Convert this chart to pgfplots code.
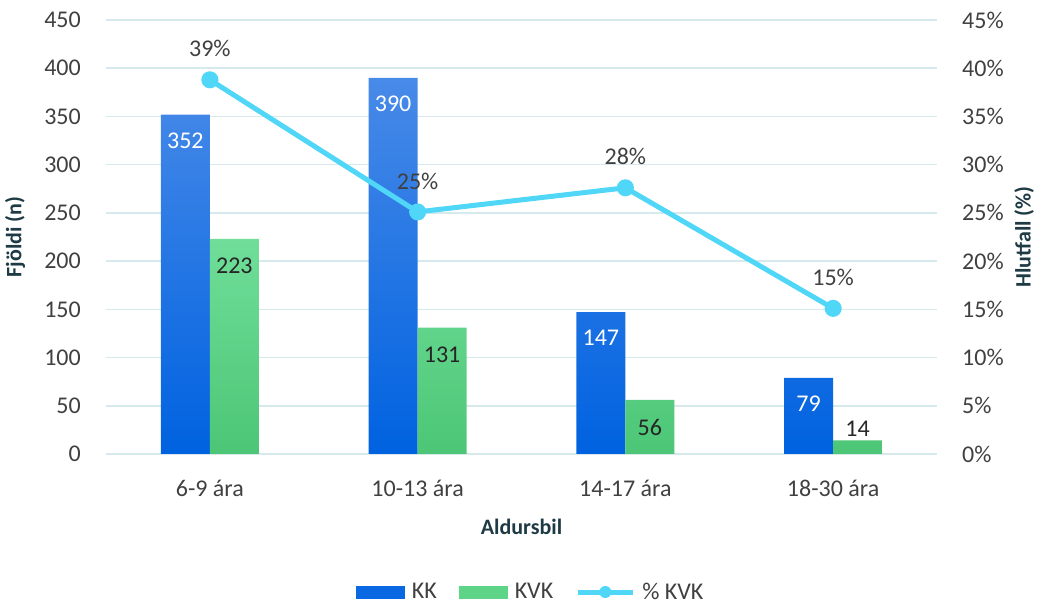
\documentclass[border=0pt]{standalone}
\usepackage{fontspec}
\setmainfont{Carlito}
\usepackage{pgfplots}
\pgfplotsset{compat=1.18}
\definecolor{kktop}{RGB}{72,138,232}
\definecolor{kkbot}{RGB}{0,98,224}
\definecolor{kvktop}{RGB}{112,222,153}
\definecolor{kvkbot}{RGB}{76,198,118}
\definecolor{kkleg}{RGB}{10,104,226}
\definecolor{kvkleg}{RGB}{94,212,137}
\definecolor{linec}{RGB}{80,214,247}
\definecolor{gridc}{RGB}{214,233,237}
\definecolor{tickc}{RGB}{64,64,64}
\definecolor{labc}{RGB}{30,58,68}
\tikzset{lab/.style={font=\fontsize{24}{29}\selectfont}}
\begin{document}
\begin{tikzpicture}[x=1pt,y=1pt]
\path[use as bounding box] (0,0) rectangle (1039,605);
\pgfplotsset{
  base/.style={scale only axis, width=831pt, height=434pt, at={(106pt,151pt)}, anchor=south west,
    xmin=-0.5, xmax=3.5, axis line style={draw=none}, major tick length=0pt,
    tick label style={font=\fontsize{24}{29}\selectfont, text=tickc},
    /pgf/number format/assume math mode=true}
}
\begin{axis}[base, ymin=0, ymax=450, ytick={0,50,...,450},
  ymajorgrids, grid style={gridc, line width=1.5pt},
  xtick={0,1,2,3}, xticklabels={6-9 ára, 10-13 ára, 14-17 ára, 18-30 ára},
  xticklabel style={anchor=base, yshift=-43pt},
  yticklabel style={anchor=east, inner sep=0pt, xshift=-25pt},
  ybar, bar width=49pt,
  ylabel={Fjöldi (n)},
  ylabel style={at={(axis description cs:-0.1095,0.5)}, anchor=center, font=\bfseries\fontsize{22}{26}\selectfont, text=labc},
  xlabel={Aldursbil},
  xlabel style={at={(axis description cs:0.5,-0.168)}, anchor=center, font=\bfseries\fontsize{22}{26}\selectfont, text=labc},
]
\addplot[bar shift=-24.5pt, draw=none, top color=kktop, bottom color=kkbot] coordinates {(0,352) (1,390) (2,147) (3,79)};
\addplot[bar shift=24.5pt, draw=none, top color=kvktop, bottom color=kvkbot] coordinates {(0,223) (1,131) (2,56) (3,14)};
\addplot[bar shift=-24.5pt, draw=none, fill=none, nodes near coords,
  nodes near coords style={anchor=center, yshift=-26pt, text=white, lab}] coordinates {(0,352) (1,390) (2,147) (3,79)};
\addplot[bar shift=24.5pt, draw=none, fill=none, nodes near coords,
  nodes near coords style={anchor=center, yshift=-27pt, text=black!85, lab}] coordinates {(0,223) (1,131) (2,56)};
\addplot[bar shift=24.5pt, draw=none, fill=none, nodes near coords,
  nodes near coords style={anchor=center, yshift=12pt, text=black!85, lab}] coordinates {(3,14)};
\end{axis}
\begin{axis}[base, ymin=0, ymax=45, ytick={0,5,...,45},
  axis y line*=right, axis x line=none,
  yticklabel={\pgfmathprintnumber{\tick}\%},
  yticklabel style={anchor=west, inner sep=0pt, xshift=25pt},
  ylabel={Hlutfall (\%)},
  ylabel style={at={(axis description cs:1.1047,0.5)}, anchor=center, font=\bfseries\fontsize{22}{26}\selectfont, text=labc},
  legend style={at={(axis description cs:0.511,-0.318)}, anchor=center, draw=none, fill=none,
    legend columns=3, font=\fontsize{24}{29}\selectfont, text=tickc,
    /tikz/every odd column/.append style={column sep=5pt},
    /tikz/every even column/.append style={column sep=20pt}},
]
\addlegendimage{legend image code/.code={\path[draw=none, fill=kkleg] (0pt,-6.5pt) rectangle (49pt,6.5pt);}}
\addlegendentry{KK}
\addlegendimage{legend image code/.code={\path[draw=none, fill=kvkleg] (0pt,-6.5pt) rectangle (49pt,6.5pt);}}
\addlegendentry{KVK}
\addplot[linec, line width=5pt, mark=*, mark size=6pt, mark options={fill=linec, draw=none},
  legend image code/.code={\path[draw=linec, line width=5pt] (0pt,0pt) -- (55pt,0pt); \path[fill=linec, draw=none] (27.5pt,0pt) circle (6pt);},
  point meta=explicit symbolic, nodes near coords,
  nodes near coords style={anchor=center, yshift=31pt, text=tickc, lab}]
  coordinates {(0,38.8) [39\%] (1,25.1) [25\%] (2,27.6) [28\%] (3,15.1) [15\%]};
\addlegendentry{\% KVK}
\end{axis}
\end{tikzpicture}
\end{document}
